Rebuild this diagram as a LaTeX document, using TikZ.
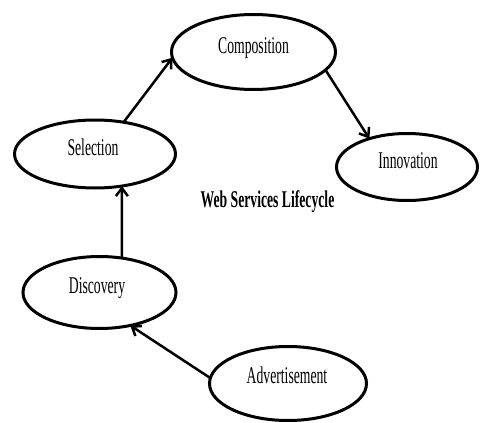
\documentclass[tikz,border=0pt]{standalone}
\usepackage{fontspec}
\setmainfont{Liberation Serif}
\usetikzlibrary{arrows.meta,shapes.geometric}
\newcommand{\narrowtxt}[1]{\scalebox{0.57}[1]{#1}}
\begin{document}
\begin{tikzpicture}[x=1pt,y=-1pt,
  stage/.style={ellipse, draw, line width=3pt, inner sep=0pt, outer sep=0pt},
  lbl/.style={anchor=base, inner sep=0pt, font=\fontsize{24}{28}\selectfont},
  conn/.style={line width=2.5pt, -{Straight Barb[length=8pt,width=12pt]}}]
\useasboundingbox (0,0) rectangle (480,423);
% ellipses
\node[stage, minimum width=164pt, minimum height=75pt] (comp) at (253.5,52) {};
\node[stage, minimum width=161pt, minimum height=68pt] (sel) at (95,154) {};
\node[stage, minimum width=141pt, minimum height=67pt] (inno) at (407,167) {};
\node[stage, minimum width=153pt, minimum height=72pt] (disc) at (99.5,292.5) {};
\node[stage, minimum width=157pt, minimum height=74pt] (adv) at (288,383.5) {};
% labels
\node[lbl] (compt) at (253.5,53) {\narrowtxt{Composition}};
\node[lbl] (selt) at (93,155) {\narrowtxt{Selection}};
\node[lbl] (innot) at (408,168) {\narrowtxt{Innovation}};
\node[lbl] (disct) at (97,293) {\narrowtxt{Discovery}};
\node[lbl] (advt) at (287,383) {\narrowtxt{Advertisement}};
\node[lbl] (title) at (267.5,207) {\narrowtxt{\bfseries Web Services Lifecycle}};
% connectors
\draw[conn] (sel.48) -- (comp.184);
\draw[conn] (comp.-14) -- (inno.143);
\draw[conn] (disc.57) -- (sel.-50);
\draw[conn] (adv.176) -- (disc.-47);
\end{tikzpicture}
\end{document}
